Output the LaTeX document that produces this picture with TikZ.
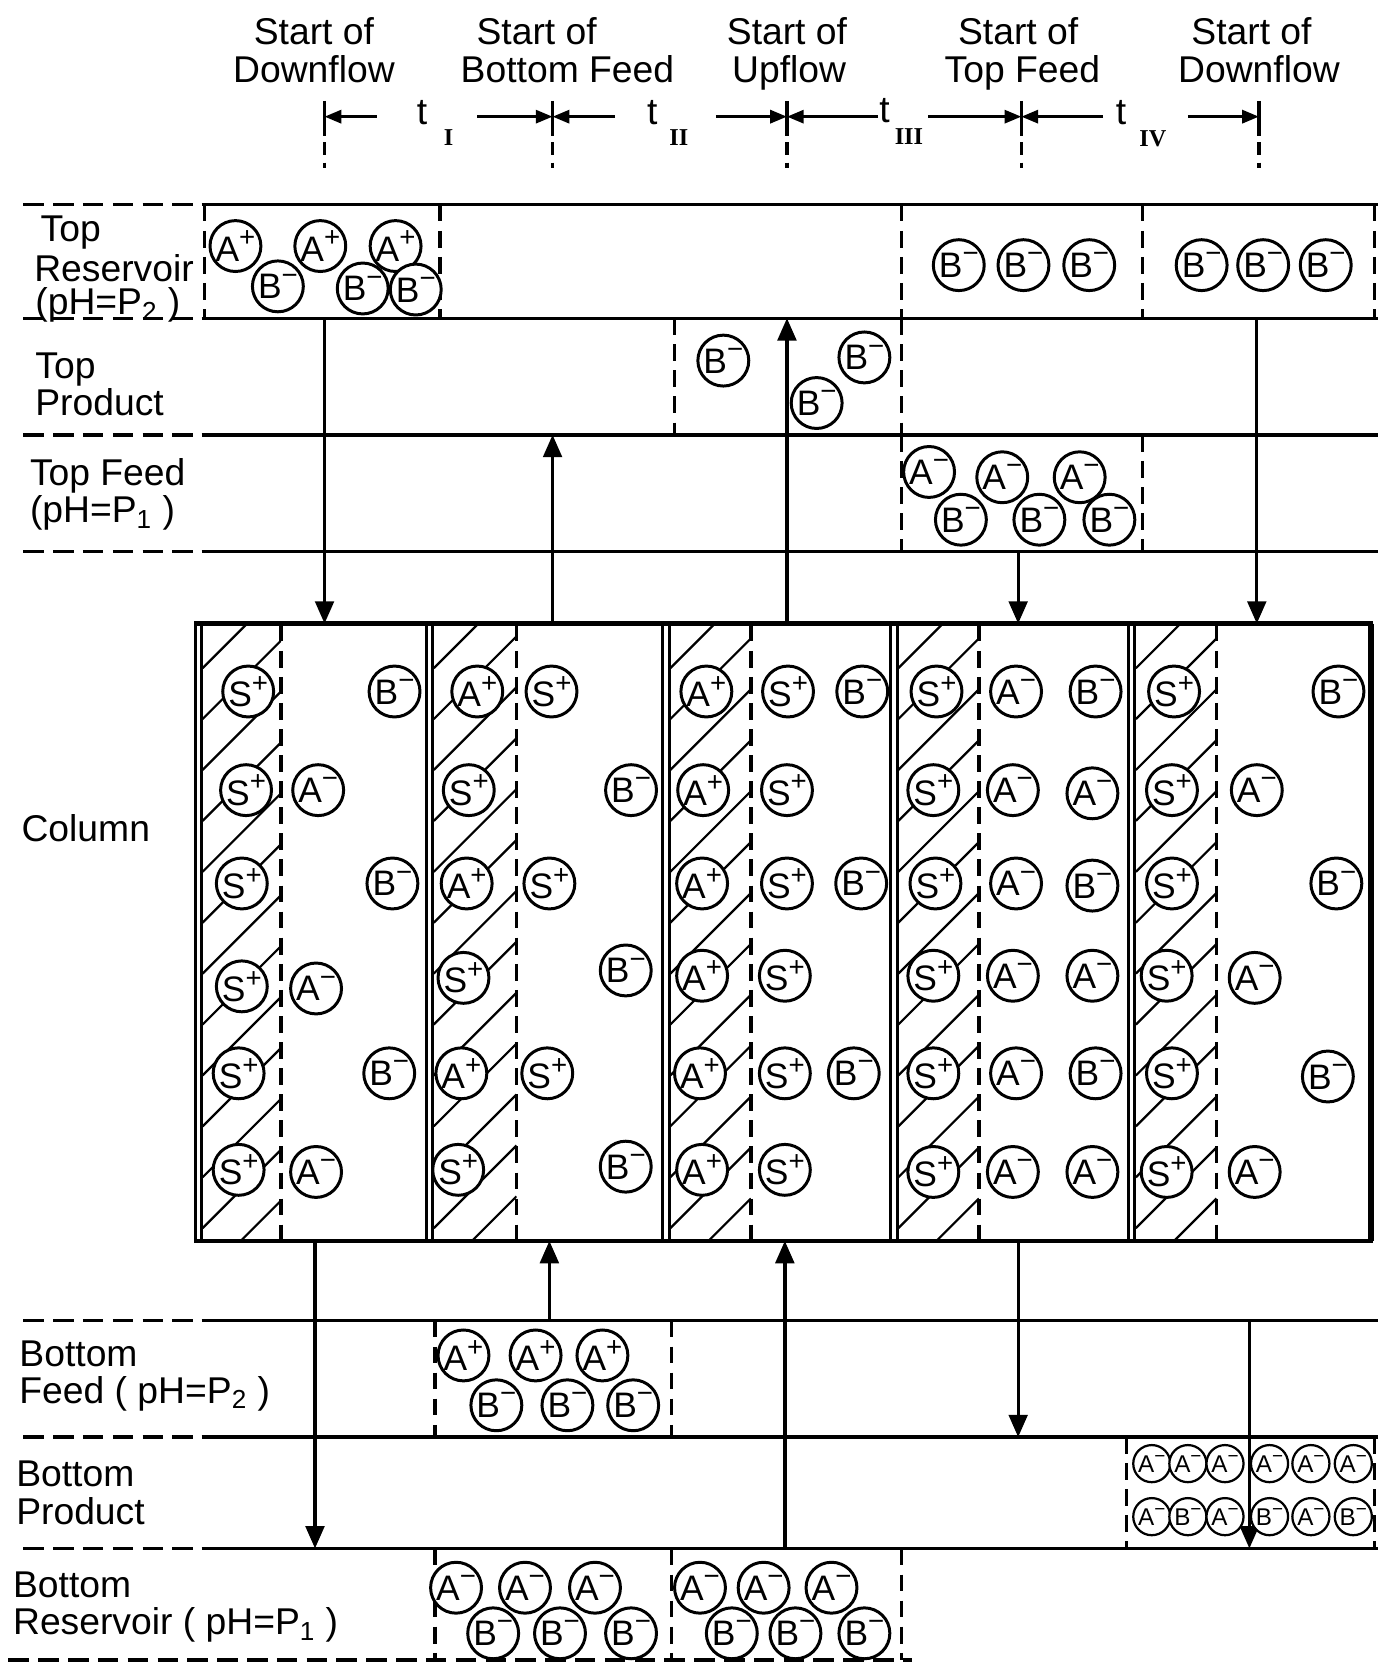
\documentclass[tikz,border=0pt]{standalone}
\usepackage{fontspec}
\usepackage{graphicx}
\setmainfont{Liberation Sans}
\newfontfamily\romfont{Liberation Serif}
\usetikzlibrary{arrows.meta}
\newcommand\IonP{\raisebox{0.40em}{\scalebox{0.78}{+}}}
\newcommand\IonM{\raisebox{0.42em}{\scalebox{0.78}{−}}}
\newcommand\IonSp{S\IonP}
\newcommand\IonAp{A\IonP}
\newcommand\IonAm{A\IonM}
\newcommand\IonBm{B\IonM}
\begin{document}
\begin{tikzpicture}[x=0.02cm,y=-0.02cm,
 hdr/.style={font=\fontsize{20}{22}\selectfont, inner sep=0pt, anchor=base},
 lbl/.style={font=\fontsize{20}{22}\selectfont, inner sep=0pt, anchor=base west},
 ion/.style={circle, draw, line width=1.6pt, fill=white, minimum size=0.96cm, inner sep=0pt, font=\fontsize{19}{19}\selectfont},
 sion/.style={circle, draw, line width=1.2pt, fill=white, minimum size=0.7cm, inner sep=0pt, font=\fontsize{13}{13}\selectfont},
 solidline/.style={line width=1.8pt},
 dashline/.style={line width=1.8pt, dash pattern=on 11pt off 5pt},
 vdash/.style={line width=1.8pt, dash pattern=on 9pt off 5pt},
 hatch/.style={line width=1.2pt},
 flow/.style={line width=1.8pt, -{Triangle[length=12pt,width=10pt]}},
 tarr/.style={line width=1.6pt, -{Triangle[length=9pt,width=7pt]}},
 wall/.style={line width=1.6pt},
 tlab/.style={inner sep=0pt, font=\fontsize{20}{20}\selectfont},
 tsub/.style={inner sep=0pt, font={\romfont\bfseries\fontsize{13}{13}\selectfont}},
]
\useasboundingbox (0,0) rectangle (1299,1568);

% ---------- headers ----------
\node[hdr] (h1a) at (296,42) {Start of};
\node[hdr] (h1b) at (296,78) {Downflow};
\node[hdr] (h2a) at (506,42) {Start of};
\node[hdr] (h2b) at (535,78) {Bottom Feed};
\node[hdr] (h3a) at (742,42) {Start of};
\node[hdr] (h3b) at (744,78) {Upflow};
\node[hdr] (h4a) at (960,42) {Start of};
\node[hdr] (h4b) at (964,78) {Top Feed};
\node[hdr] (h5a) at (1180,42) {Start of};
\node[hdr] (h5b) at (1187,78) {Downflow};

% ---------- time axis ----------
\foreach \x/\n in {306/m1,521/m2,742/m3,963/m4,1187/m5} {
  \coordinate (\n) at (\x,110);
  \draw[line width=1.8pt] (\x,95) -- (\x,128);
  \draw[line width=1.8pt, dash pattern=on 7pt off 4pt] (\x,134) -- (\x,158);
}
\coordinate (a1) at (355,110);
\coordinate (a2) at (450,110);
\coordinate (a3) at (580,110);
\coordinate (a4) at (675,110);
\coordinate (a5) at (828,110);
\coordinate (a6) at (875,110);
\coordinate (a7) at (1040,110);
\coordinate (a8) at (1120,110);
\draw[tarr] (a1) -- (m1);
\draw[tarr] (a2) -- (m2);
\draw[tarr] (a3) -- (m2);
\draw[tarr] (a4) -- (m3);
\draw[tarr] (a5) -- (m3);
\draw[tarr] (a6) -- (m4);
\draw[tarr] (a7) -- (m4);
\draw[tarr] (a8) -- (m5);
\node[tlab] (t1) at (398,106) {t};
\node[tsub] (t1s) at (423,130) {I};
\node[tlab] (t2) at (615,106) {t};
\node[tsub] (t2s) at (640,130) {II};
\node[tlab] (t3) at (834,104) {t};
\node[tsub] (t3s) at (857,129) {III};
\node[tlab] (t4) at (1057,106) {t};
\node[tsub] (t4s) at (1087,131) {IV};

% ---------- row lines ----------
\foreach \y in {193,300,410,520,1245,1355,1460} {
  \draw[dashline] (22,\y) -- (190,\y);
  \draw[solidline] (190,\y) -- (1299,\y);
}
\draw[dashline] (8,1565) -- (860,1565);

% ---------- dashed box edges ----------
\foreach \x in {193,415,850,1077,1296} \draw[vdash] (\x,193) -- (\x,300);
\foreach \x in {636,850} \draw[vdash] (\x,300) -- (\x,410);
\foreach \x in {850,1077} \draw[vdash] (\x,410) -- (\x,520);
\foreach \x in {410,633} \draw[vdash] (\x,1245) -- (\x,1355);
\foreach \x in {1062,1296} \draw[vdash] (\x,1355) -- (\x,1460);
\foreach \x in {410,633,850} \draw[vdash] (\x,1460) -- (\x,1565);

% ---------- left labels ----------
\node[lbl] (l1a) at (38,228) {Top};
\node[lbl] (l1b) at (32,265) {Reservoir};
\node[lbl] (l1c) at (33,297) {(pH=P\textsubscript{2} )};
\node[lbl] (l2a) at (33,357) {Top};
\node[lbl] (l2b) at (33,392) {Product};
\node[lbl] (l3a) at (28,458) {Top Feed};
\node[lbl] (l3b) at (28,493) {(pH=P\textsubscript{1} )};
\node[lbl] (l4) at (20,793) {Column};
\node[lbl] (l5a) at (18,1288) {Bottom};
\node[lbl] (l5b) at (18,1323) {Feed ( pH=P\textsubscript{2} )};
\node[lbl] (l6a) at (15,1402) {Bottom};
\node[lbl] (l6b) at (15,1437) {Product};
\node[lbl] (l7a) at (12,1506) {Bottom};
\node[lbl] (l7b) at (12,1541) {Reservoir ( pH=P\textsubscript{1} )};

% ---------- column: hatching ----------
\foreach \a/\b in {191/265, 409/487, 632/708, 847/923, 1071/1147} {
  \begin{scope}
    \clip (\a,589) rectangle (\b,1169);
    \foreach \k in {0,...,14}
      \draw[hatch] (\a,{630+\k*48}) -- (\b,{630+\k*48-(\b-\a)});
  \end{scope}
  \draw[vdash] (\b,589) -- (\b,1169);
}

% ---------- connectors ----------
\coordinate (c1t) at (306,300);  \coordinate (c1b) at (306,588);
\coordinate (c2t) at (521,410);  \coordinate (c2b) at (521,588);
\coordinate (c3t) at (742,300);  \coordinate (c3b) at (742,588);
\coordinate (c4t) at (960,520);  \coordinate (c4b) at (960,588);
\coordinate (c5t) at (1185,300); \coordinate (c5b) at (1185,588);
\coordinate (d1t) at (297,1170); \coordinate (d1b) at (297,1460);
\coordinate (d2t) at (518,1170); \coordinate (d2b) at (518,1245);
\coordinate (d3t) at (740,1170); \coordinate (d3b) at (740,1460);
\coordinate (d4t) at (960,1170); \coordinate (d4b) at (960,1355);
\coordinate (d5t) at (1178,1245); \coordinate (d5b) at (1178,1460);
\draw[flow] (c1t) -- (c1b);
\draw[flow] (c2b) -- (c2t);
\draw[flow] (c3b) -- (c3t);
\draw[flow] (c4t) -- (c4b);
\draw[flow] (c5t) -- (c5b);
\draw[flow] (d1t) -- (d1b);
\draw[flow] (d2b) -- (d2t);
\draw[flow] (d3b) -- (d3t);
\draw[flow] (d4t) -- (d4b);
\draw[flow] (d5t) -- (d5b);

% ---------- column ions ----------
\foreach \x/\y/\t [count=\i] in {
  234/652/\IonSp, 232/745/\IonSp, 228/833/\IonSp, 228/930/\IonSp, 225/1012/\IonSp, 225/1103/\IonSp,
  300/745/\IonAm, 298/932/\IonAm, 298/1105/\IonAm,
  372/652/\IonBm, 370/833/\IonBm, 367/1012/\IonBm,
  450/652/\IonAp, 442/745/\IonSp, 440/833/\IonAp, 437/922/\IonSp, 435/1012/\IonAp, 432/1103/\IonSp,
  520/652/\IonSp, 518/833/\IonSp, 516/1012/\IonSp,
  595/745/\IonBm, 590/915/\IonBm, 590/1100/\IonBm,
  666/652/\IonAp, 663/745/\IonAp, 662/833/\IonAp, 662/920/\IonAp, 660/1012/\IonAp, 662/1103/\IonAp,
  743/652/\IonSp, 742/745/\IonSp, 742/833/\IonSp, 740/920/\IonSp, 740/1012/\IonSp, 740/1103/\IonSp,
  813/652/\IonBm, 812/833/\IonBm, 805/1012/\IonBm,
  883/652/\IonSp, 880/745/\IonSp, 882/833/\IonSp, 880/920/\IonSp, 880/1012/\IonSp, 880/1105/\IonSp,
  958/652/\IonAm, 955/745/\IonAm, 958/833/\IonAm, 955/920/\IonAm, 958/1012/\IonAm, 955/1105/\IonAm,
  1033/652/\IonBm, 1030/748/\IonAm, 1030/835/\IonBm, 1030/920/\IonAm, 1033/1012/\IonBm, 1030/1105/\IonAm,
  1107/652/\IonSp, 1105/745/\IonSp, 1105/833/\IonSp, 1100/920/\IonSp, 1105/1012/\IonSp, 1100/1105/\IonSp,
  1185/745/\IonAm, 1183/922/\IonAm, 1183/1105/\IonAm,
  1262/652/\IonBm, 1260/833/\IonBm, 1252/1015/\IonBm}
  \node[ion] (col\i) at (\x,\y) {\t};

% ---------- reservoir / feed / product ions ----------
\foreach \x/\y/\t [count=\i] in {
  222/232/\IonAp, 302/232/\IonAp, 373/232/\IonAp,
  262/270/\IonBm, 342/272/\IonBm, 392/273/\IonBm,
  904/250/\IonBm, 965/250/\IonBm, 1027/250/\IonBm,
  1133/250/\IonBm, 1191/250/\IonBm, 1250/250/\IonBm,
  682/340/\IonBm, 815/337/\IonBm, 770/380/\IonBm,
  876/445/\IonAm, 945/450/\IonAm, 1018/450/\IonAm,
  906/490/\IonBm, 980/490/\IonBm, 1046/490/\IonBm,
  437/1278/\IonAp, 505/1278/\IonAp, 568/1278/\IonAp,
  468/1325/\IonBm, 535/1325/\IonBm, 597/1325/\IonBm,
  430/1497/\IonAm, 495/1497/\IonAm, 561/1497/\IonAm,
  465/1540/\IonBm, 528/1540/\IonBm, 595/1540/\IonBm,
  660/1497/\IonAm, 720/1497/\IonAm, 784/1497/\IonAm,
  690/1540/\IonBm, 750/1540/\IonBm, 815/1540/\IonBm}
  \node[ion] (res\i) at (\x,\y) {\t};

\foreach \x/\y/\t [count=\i] in {
  1086/1380/\IonAm, 1120/1380/\IonAm, 1155/1380/\IonAm, 1197/1380/\IonAm, 1236/1380/\IonAm, 1276/1380/\IonAm,
  1086/1430/\IonAm, 1120/1430/\IonBm, 1155/1430/\IonAm, 1197/1430/\IonBm, 1236/1430/\IonAm, 1276/1430/\IonBm}
  \node[sion] (bp\i) at (\x,\y) {\t};

% ---------- column walls ----------
\draw[line width=2.4pt] (183,588) -- (1295,588);
\draw[line width=2.4pt] (183,1170) -- (1295,1170);
\foreach \x in {184,190,402,408,625,631,840,846,1064,1070} \draw[wall] (\x,588) -- (\x,1170);
\draw[line width=3.2pt] (1293,588) -- (1293,1170);
\end{tikzpicture}
\end{document}
